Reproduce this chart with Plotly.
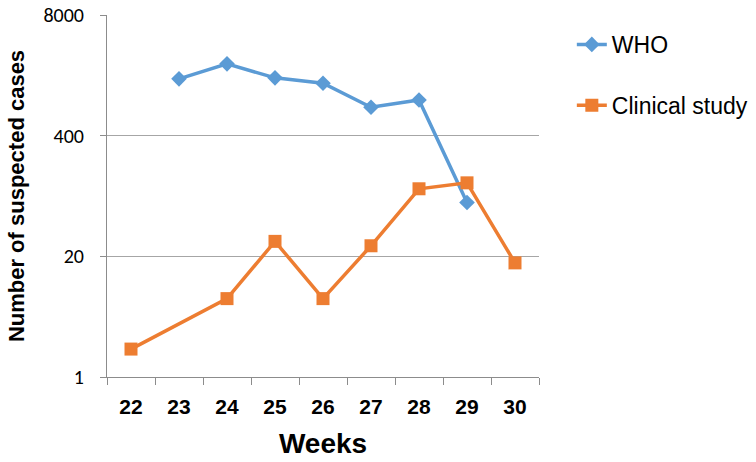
import plotly.graph_objects as go

weeks = ["22", "23", "24", "25", "26", "27", "28", "29", "30"]

who_weeks = ["23", "24", "25", "26", "27", "28", "29"]
who_cases = [1640, 2380, 1680, 1470, 810, 970, 76]

clin_weeks = ["22", "24", "25", "26", "27", "28", "29", "30"]
clin_cases = [2, 7, 29, 7, 26, 107, 124, 17]

y_ticks = [1, 20, 400, 8000]

fig = go.Figure()
fig.add_trace(go.Scatter(x=who_weeks, y=who_cases, name="WHO", mode="lines+markers",
                         line=dict(color="#5B9BD5", width=3.5),
                         marker=dict(symbol="diamond", size=12, color="#5B9BD5"),
                         legendgroup="a"))
fig.add_trace(go.Scatter(x=clin_weeks, y=clin_cases, name="Clinical study", mode="lines+markers",
                         line=dict(color="#ED7D31", width=3.5),
                         marker=dict(symbol="square", size=13, color="#ED7D31"),
                         legendgroup="b"))

fig.update_layout(
    width=756, height=462,
    margin=dict(l=107, r=217, t=15, b=85, autoexpand=False),
    plot_bgcolor="white", paper_bgcolor="white",
    legend=dict(x=1.076, y=0.978, xanchor="left", yanchor="top",
                font=dict(family="Arial, Liberation Sans", size=23, color="black"),
                tracegroupgap=28),
    xaxis=dict(type="category", categoryorder="array", categoryarray=weeks,
               range=[-0.5, 8.5], tickson="boundaries", ticks="outside", ticklen=7,
               tickcolor="#8c8c8c", showline=True, linecolor="#8c8c8c", linewidth=1,
               showgrid=False, automargin=False, ticklabelstandoff=11,
               tickfont=dict(family="Arial, Liberation Sans", size=21, color="black", weight="bold"),
               title=dict(text="Weeks", font=dict(family="Arial, Liberation Sans", size=28,
                                                  color="black", weight="bold"), standoff=16)),
    yaxis=dict(type="log", range=[0, 3.90309], tickvals=y_ticks,
               ticktext=[str(v) for v in y_ticks], ticks="outside", ticklen=6,
               tickcolor="#8c8c8c", showline=True, linecolor="#8c8c8c", linewidth=1,
               showgrid=True, gridcolor="#a6a6a6", gridwidth=1, zeroline=False,
               automargin=False, ticklabelstandoff=12,
               tickfont=dict(family="Carlito, Open Sans", size=20, color="black"),
               title=dict(text="Number of suspected cases",
                          font=dict(family="Arial, Liberation Sans", size=22, color="black",
                                    weight="bold"), standoff=12)),
)

# drop the default 8px page margin so the figure sits at the window corner
fig.write_html("out.html", config={"displayModeBar": False},
               post_script="document.body.style.margin='0';")
